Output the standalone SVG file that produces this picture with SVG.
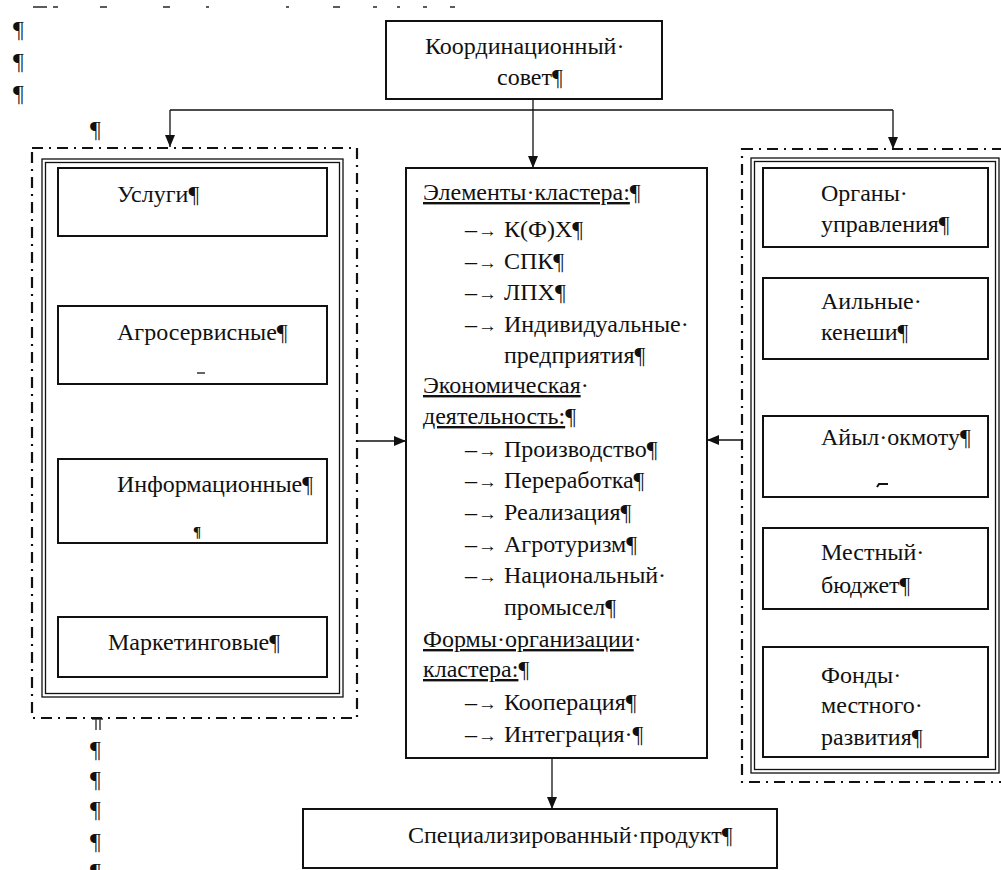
<svg xmlns="http://www.w3.org/2000/svg" width="1001" height="870" viewBox="0 0 1001 870" font-family="'Liberation Serif', 'DejaVu Serif', serif">
<defs>
<style>
text{font-family:"Liberation Serif","DejaVu Serif",serif;font-size:24px;fill:#111}
.box{fill:#fff;stroke:#111;stroke-width:2}
.thin{fill:none;stroke:#111;stroke-width:1.3}
.dd{fill:none;stroke:#111;stroke-width:2.2;stroke-dasharray:11 6 2 6}
.con{fill:none;stroke:#111;stroke-width:1.3}
.frag{stroke:#333;stroke-width:1.6}
.u{text-decoration:underline}
.ar{font-size:19px}
</style>
<marker id="ah" markerUnits="userSpaceOnUse" markerWidth="13" markerHeight="11" refX="12" refY="5" orient="auto">
<path d="M0,0 L12,5 L0,10 z" fill="#111"/>
</marker>
</defs>
<rect width="1001" height="870" fill="#fff"/>

<g id="fragments">
<line class="frag" x1="33" y1="7" x2="47" y2="7"/>
<line class="frag" x1="53" y1="7" x2="58" y2="7"/>
<line class="frag" x1="100" y1="7" x2="107" y2="7"/>
<line class="frag" x1="163" y1="7" x2="170" y2="7"/>
<line class="frag" x1="206" y1="7" x2="209" y2="7"/>
<line class="frag" x1="286" y1="7" x2="289" y2="7"/>
<line class="frag" x1="333" y1="7" x2="340" y2="7"/>
<line class="frag" x1="373" y1="7" x2="377" y2="7"/>
<line class="frag" x1="397" y1="7" x2="400" y2="7"/>
<line class="frag" x1="423" y1="7" x2="427" y2="7"/>
<line class="frag" x1="450" y1="7" x2="455" y2="7"/>
<text x="13" y="37">¶</text>
<text x="13" y="69">¶</text>
<text x="13" y="101">¶</text>
<text x="90" y="137">¶</text>
<text x="90" y="757">¶</text>
<text x="90" y="787">¶</text>
<text x="90" y="817">¶</text>
<text x="90" y="849">¶</text>
<text x="90" y="879">¶</text>
<path d="M92,719 L103,719 M96,719 L96,730 M100,719 L100,730" stroke="#333" stroke-width="1.4" fill="none"/>
</g>

<g id="connectors">
<path class="con" d="M170,110 L893,110"/>
<path class="con" d="M170,110 L170,147" marker-end="url(#ah)"/>
<path class="con" d="M893,110 L893,149" marker-end="url(#ah)"/>
<path class="con" d="M533,99 L533,168" marker-end="url(#ah)"/>
<path class="con" d="M357,441 L406,441" marker-end="url(#ah)"/>
<path class="con" d="M742,440 L707,440" marker-end="url(#ah)"/>
<path class="con" d="M552,758 L552,809" marker-end="url(#ah)"/>
</g>

<g id="coordination-council">
<rect class="box" x="386" y="21" width="276" height="78"/>
<text x="425" y="54">Координационный·</text>
<text x="497" y="85">совет¶</text>
</g>

<g id="services-panel">
<rect class="dd" x="32" y="148" width="325" height="570"/>
<rect class="thin" x="42" y="159" width="301" height="538"/>
<rect class="thin" x="45.5" y="162.5" width="294" height="531"/>
</g>
<g id="services">
<rect class="box" x="58" y="168" width="269" height="68"/>
<text x="117" y="202">Услуги¶</text>
</g>
<g id="agroservice">
<rect class="box" x="58" y="306" width="269" height="78"/>
<text x="117" y="340">Агросервисные¶</text>
<line x1="197" y1="373" x2="205" y2="373" stroke="#111" stroke-width="1.3"/>
</g>
<g id="information">
<rect class="box" x="58" y="459" width="269" height="84"/>
<text x="117" y="492">Информационные¶</text>
<text x="193" y="537" style="font-size:15px;font-weight:bold">¶</text>
</g>
<g id="marketing">
<rect class="box" x="58" y="617" width="269" height="60"/>
<text x="108" y="650">Маркетинговые¶</text>
</g>

<g id="cluster">
<rect class="box" x="406" y="168" width="301" height="590"/>
<text x="423" y="200"><tspan class="u">Элементы·кластера:</tspan>¶</text>
<text x="465" y="237">–<tspan class="ar" dx="1">→</tspan><tspan x="504">К(Ф)Х¶</tspan></text>
<text x="465" y="269">–<tspan class="ar" dx="1">→</tspan><tspan x="504">СПК¶</tspan></text>
<text x="465" y="300">–<tspan class="ar" dx="1">→</tspan><tspan x="504">ЛПХ¶</tspan></text>
<text x="465" y="332">–<tspan class="ar" dx="1">→</tspan><tspan x="504">Индивидуальные·</tspan></text>
<text x="504" y="363">предприятия¶</text>
<text x="423" y="393"><tspan class="u">Экономическая</tspan>·</text>
<text x="423" y="424"><tspan class="u">деятельность:</tspan>¶</text>
<text x="465" y="457">–<tspan class="ar" dx="1">→</tspan><tspan x="504">Производство¶</tspan></text>
<text x="465" y="488">–<tspan class="ar" dx="1">→</tspan><tspan x="504">Переработка¶</tspan></text>
<text x="465" y="520">–<tspan class="ar" dx="1">→</tspan><tspan x="504">Реализация¶</tspan></text>
<text x="465" y="552">–<tspan class="ar" dx="1">→</tspan><tspan x="504">Агротуризм¶</tspan></text>
<text x="465" y="583">–<tspan class="ar" dx="1">→</tspan><tspan x="504">Национальный·</tspan></text>
<text x="504" y="615">промысел¶</text>
<text x="423" y="647"><tspan class="u">Формы·организации</tspan>·</text>
<text x="423" y="677"><tspan class="u">кластера:</tspan>¶</text>
<text x="465" y="710">–<tspan class="ar" dx="1">→</tspan><tspan x="504">Кооперация¶</tspan></text>
<text x="465" y="742">–<tspan class="ar" dx="1">→</tspan><tspan x="504">Интеграция·¶</tspan></text>
</g>

<g id="governance-panel">
<rect class="dd" x="742" y="149" width="280" height="633"/>
<rect class="thin" x="751" y="158" width="248" height="615"/>
<rect class="thin" x="754.5" y="161.5" width="241" height="608"/>
</g>
<g id="governing-bodies">
<rect class="box" x="763" y="168" width="225" height="79"/>
<text x="821" y="201">Органы·</text>
<text x="821" y="232">управления¶</text>
</g>
<g id="ail-keneshi">
<rect class="box" x="763" y="278" width="225" height="81"/>
<text x="821" y="309">Аильные·</text>
<text x="821" y="340">кенеши¶</text>
</g>
<g id="ail-okmotu">
<rect class="box" x="763" y="416" width="225" height="81"/>
<text x="821" y="445">Айыл·окмоту¶</text>
<path d="M877,487 L879,484 L888,484" stroke="#111" stroke-width="2" fill="none"/>
</g>
<g id="local-budget">
<rect class="box" x="763" y="528" width="225" height="81"/>
<text x="821" y="560">Местный·</text>
<text x="821" y="593">бюджет¶</text>
</g>
<g id="local-funds">
<rect class="box" x="763" y="647" width="225" height="110"/>
<text x="821" y="683">Фонды·</text>
<text x="821" y="713">местного·</text>
<text x="821" y="745">развития¶</text>
</g>

<g id="specialized-product">
<rect class="box" x="303" y="809" width="474" height="59"/>
<text x="408" y="843">Специализированный·продукт¶</text>
</g>
</svg>
